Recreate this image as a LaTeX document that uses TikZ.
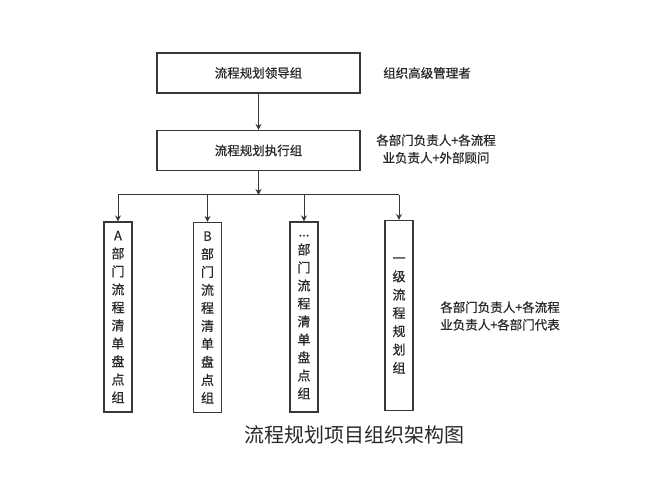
\documentclass[tikz,border=0pt]{standalone}
\usepackage{fontspec}
\setmainfont{Noto Sans CJK SC}[BoldFont={Noto Sans CJK SC}, BoldFeatures={FakeBold=0.7}]
\usetikzlibrary{arrows.meta, positioning}
\definecolor{cLine}{RGB}{55,55,55}
\definecolor{cText}{RGB}{40,40,40}
\tikzset{
	hbox/.style  ={rectangle, draw=cLine, line width=1.2pt, minimum width=203pt, minimum height=40pt, align=center, text=cText, font=\fontsize{12.5}{15}\selectfont\bfseries},
	vbox/.style  ={rectangle, draw=cLine, line width=1.2pt, minimum width=28pt, minimum height=190pt, text width=16pt, inner sep=0pt, align=center, text=cText, font=\fontsize{13}{18}\selectfont\bfseries},
	note/.style  ={align=center, text=cText, font=\fontsize{12.5}{17.5}\selectfont\bfseries},
	link/.style  ={-{Stealth[length=6pt, width=6pt]}, line width=1pt, draw=cLine},
}
\begin{document}
\begin{tikzpicture}[x=1pt, y=-1pt]
	\useasboundingbox (0,0) rectangle (652,478);
	% top two levels
	\node[hbox] (lead) at (258.5,73) {流程规划领导组};
	\node[hbox] (exec) at (258.5,150.5) {流程规划执行组};
	\node[note] (leadnote) at (427,73) {组织高级管理者};
	\node[note] (execnote) at (436,149) {各部门负责人+各流程\\业负责人+外部顾问};
	% group boxes
	\node[vbox] (grpA) at (118,317) {A\\部\\门\\流\\程\\清\\单\\盘\\点\\组};
	\node[vbox] (grpB) at (207.5,317.5) {B\\部\\门\\流\\程\\清\\单\\盘\\点\\组};
	\node[vbox] (grpC) at (304,317) {...\\部\\门\\流\\程\\清\\单\\盘\\点\\组};
	\node[vbox, font=\fontsize{13}{18.3}\selectfont\bfseries] (grpD) at (399,315.5) {一\\级\\流\\程\\规\\划\\组};
	\node[note] (grpnote) at (500,316) {各部门负责人+各流程\\业负责人+各部门代表};
	\node[text=cText, font=\fontsize{20}{24}\selectfont] (title) at (354,435) {流程规划项目组织架构图};
	% connectors
	\coordinate (bus) at (258.5,195);
	\coordinate (busA) at (118,195);
	\coordinate (busD) at (399,195);
	\draw[link] (lead) -- (exec);
	\draw[link] (exec) -- (bus);
	\draw[line width=1pt, draw=cLine] (busA) -- (busD);
	\foreach \g/\x in {grpA/118, grpB/207.5, grpC/304, grpD/399}
		\draw[link] (\x,195) -- (\g.north);
\end{tikzpicture}
\end{document}
